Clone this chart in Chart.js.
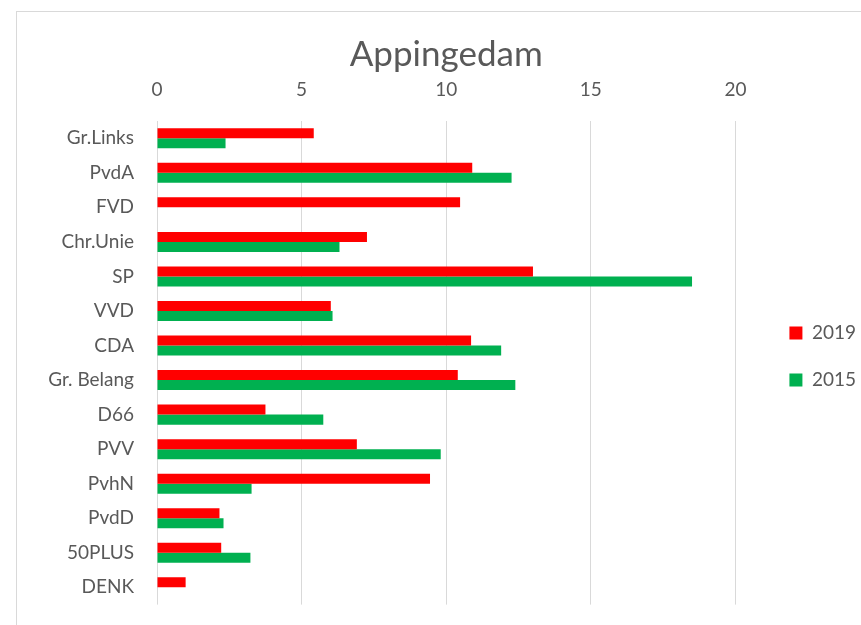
<!DOCTYPE html>
<html>
<head>
<meta charset="utf-8">
<title>Appingedam</title>
<script src="https://cdn.jsdelivr.net/npm/chart.js@4.4.1/dist/chart.umd.min.js"></script>
<style>
    html, body { margin: 0; padding: 0; background: #fff; overflow: hidden; }
    #kader {
        position: absolute;
        left: 16px;
        top: 11px;
        width: 868px;
        height: 627px;
        border-top: 1px solid #d9d9d9;
        border-left: 1px solid #d9d9d9;
    }
    #grafiek { display: block; }
</style>
</head>
<body>
<div id="kader">
    <canvas id="grafiek" width="868" height="627"></canvas>
</div>
<script>
const partijen = ['Gr.Links', 'PvdA', 'FVD', 'Chr.Unie', 'SP', 'VVD', 'CDA', 'Gr. Belang', 'D66', 'PVV', 'PvhN', 'PvdD', '50PLUS', 'DENK'];
const uitslag2019 = [5.42, 10.9, 10.48, 7.26, 13.0, 6.01, 10.86, 10.4, 3.75, 6.91, 9.44, 2.16, 2.22, 0.99];
const uitslag2015 = [2.37, 12.26, null, 6.31, 18.5, 6.07, 11.9, 12.39, 5.75, 9.81, 3.27, 2.3, 3.23, null];
const xTicks = [0, 5, 10, 15, 20];

const grijs = '#595959';
const lettertype = 'Lato, "Open Sans", sans-serif';

const ctx = document.getElementById('grafiek').getContext('2d');
new Chart(ctx, {
    type: 'bar',
    data: {
        labels: partijen,
        datasets: [
            {
                label: '2019',
                data: uitslag2019,
                backgroundColor: '#FF0000',
                categoryPercentage: 0.58,
                barPercentage: 1
            },
            {
                label: '2015',
                data: uitslag2015,
                backgroundColor: '#00B050',
                categoryPercentage: 0.58,
                barPercentage: 1
            }
        ]
    },
    options: {
        indexAxis: 'y',
        responsive: false,
        animation: false,
        // negatieve onderrand: legenda (fullSize) komt daardoor lager te staan
        layout: { padding: { left: 0, right: 19, top: 0, bottom: -62 } },
        scales: {
            x: {
                position: 'top',
                min: 0,
                max: 20,
                afterBuildTicks: function (scale) {
                    scale.ticks = xTicks.map(v => ({ value: v }));
                },
                afterFit: function (scale) { scale.height = 45; },
                grid: { color: '#d9d9d9', lineWidth: 1, drawTicks: false },
                border: { display: false },
                ticks: { color: grijs, padding: 20, font: { family: lettertype, size: 19 } }
            },
            y: {
                afterFit: function (scale) { scale.width = 140; },
                grid: { display: false, drawTicks: false },
                border: { display: false },
                ticks: { color: grijs, padding: 23, font: { family: lettertype, size: 19 } }
            },
            // lege ruimte tussen grafiek en legenda
            ruimte: {
                type: 'category',
                axis: 'y',
                position: 'right',
                afterFit: function (scale) { scale.width = 26; },
                grid: { display: false, drawTicks: false },
                border: { display: false },
                ticks: { display: false }
            }
        },
        plugins: {
            title: {
                display: true,
                fullSize: false,
                text: 'Appingedam',
                color: grijs,
                font: { family: lettertype, size: 35, weight: 'normal' },
                padding: { top: 22, bottom: 0 }
            },
            legend: {
                position: 'right',
                labels: {
                    color: grijs,
                    boxWidth: 13,
                    boxHeight: 13,
                    padding: 28,
                    font: { family: lettertype, size: 19 }
                }
            },
            tooltip: { enabled: false }
        }
    }
});
</script>
</body>
</html>
